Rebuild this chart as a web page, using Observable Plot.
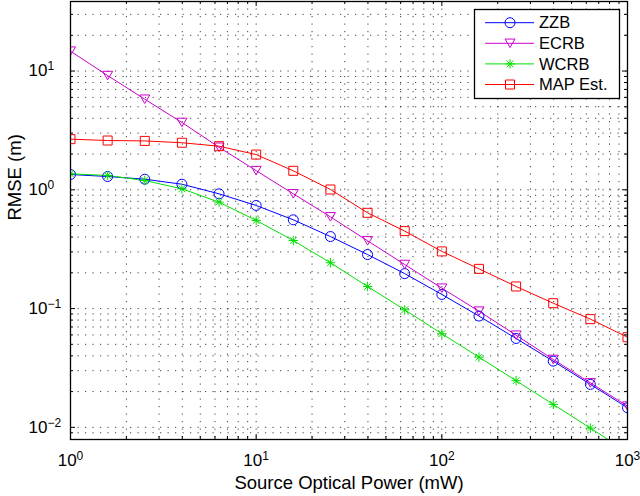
<!DOCTYPE html>
<html><head><meta charset="utf-8">
<script src="https://cdn.jsdelivr.net/npm/d3@7"></script>
<script src="https://cdn.jsdelivr.net/npm/@observablehq/plot@0.6"></script>
<style>
html,body{margin:0;padding:0;background:#fff;}
#chart{position:relative;width:640px;height:496px;font-family:"Liberation Sans",Arial,Helvetica,sans-serif;}
#chart svg{display:block;}
#legend{position:absolute;left:0;top:0;}
</style></head><body><div id="chart"></div>
<script>
// ---- data ----
const power = [1, 1.585, 2.512, 3.981, 6.310, 10, 15.85, 25.12, 39.81, 63.10, 100, 158.5, 251.2, 398.1, 631.0, 1000];
const seriesNames = ["ZZB", "ECRB", "WCRB", "MAP Est."];
const zzb  = [1.345, 1.294, 1.228, 1.115, 0.925, 0.738, 0.559, 0.404, 0.285, 0.197, 0.1315, 0.0865, 0.056, 0.0361, 0.023, 0.01462];
const ecrb = [14.7, 9.16, 5.79, 3.69, 2.28, 1.45, 0.925, 0.592, 0.372, 0.235, 0.1485, 0.0951, 0.0597, 0.0373, 0.0237, 0.0151];
const wcrb = [1.363, 1.32, 1.197, 1.02, 0.787, 0.552, 0.374, 0.243, 0.1535, 0.0977, 0.0614, 0.039, 0.0247, 0.0156, 0.00985, 0.0062];
const mapEst = [2.67, 2.60, 2.58, 2.49, 2.33, 1.98, 1.445, 1.006, 0.64, 0.449, 0.303, 0.216, 0.1535, 0.111, 0.0815, 0.0574];
const colors = ["#0000ff", "#cc00cc", "#00e000", "#ff0000"];
const xMajorTicks = [1, 10, 100, 1000];
const yMajorTicks = [0.01, 0.1, 1, 10];
const xLabel = "Source Optical Power (mW)";
const yLabel = "RMSE (m)";

// ---- layout ----
const W = 640, H = 496, mL = 70, mR = 13, mT = 1, mB = 57;
const fw = W - mL - mR, fh = H - mT - mB;

const seriesValues = [zzb, ecrb, wcrb, mapEst];
const rows = [];
seriesNames.forEach((s, i) => power.forEach((p, j) => rows.push({series: s, power: p, rmse: seriesValues[i][j]})));

// minor tick positions (log decades)
const minorFrom = (lo, hi) => { const out = []; for (let e = lo; e < hi; e++) for (let m = 1; m <= 9; m++) out.push(+(m * 10 ** e).toPrecision(3)); return out; };
const xMinor = minorFrom(0, 3).concat([1000]).filter(v => !xMajorTicks.includes(v));
const yMinor = minorFrom(-3, 2).filter(v => v > 0.0081 && v < 38 && !yMajorTicks.includes(v));
const xGrid = xMinor.concat(xMajorTicks).filter(v => v > 1 && v < 1000);
const yGrid = yMinor.concat(yMajorTicks);

// custom marker symbols
const symCircle = {draw(c, s) { const r = Math.sqrt(s / Math.PI); c.moveTo(r, 0); c.arc(0, 0, r, 0, 2 * Math.PI); }};
const symTriDown = {draw(c, s) { const r = Math.sqrt(s / Math.PI); c.moveTo(-r, -0.85 * r); c.lineTo(r, -0.85 * r); c.lineTo(0, 0.85 * r); c.closePath(); }};
const symStar = {draw(c, s) { const r = Math.sqrt(s / Math.PI) * 0.95; const d = r * 0.7071;
  c.moveTo(-r, 0); c.lineTo(r, 0); c.moveTo(0, -r); c.lineTo(0, r);
  c.moveTo(-d, -d); c.lineTo(d, d); c.moveTo(-d, d); c.lineTo(d, -d); }};
const symSquare = {draw(c, s) { const r = Math.sqrt(s / Math.PI) * 0.9; c.rect(-r, -r, 2 * r, 2 * r); }};
const symbols = [symCircle, symTriDown, symStar, symSquare];

const sup = v => "10^" + String(Math.round(Math.log10(v))).replace("-", "\u2212");
const dotted = {stroke: "#000", strokeOpacity: 0.75, strokeWidth: 1, strokeDasharray: "1.2,6.3"};

const plot = Plot.plot({
  width: W, height: H,
  marginLeft: mL, marginRight: mR, marginTop: mT, marginBottom: mB,
  style: {fontFamily: '"Liberation Sans", Arial, Helvetica, sans-serif', background: "#fff", color: "#000", overflow: "visible"},
  x: {type: "log", domain: [1, 1000], axis: null},
  y: {type: "log", domain: [0.0079, 38.5], axis: null},
  marks: [
    Plot.ruleX(xGrid, {x: d => d, ...dotted}),
    Plot.ruleY(yGrid, {y: d => d, ...dotted}),
    // lines
    ...seriesNames.map((s, i) => Plot.line(rows.filter(r => r.series === s), {x: "power", y: "rmse", stroke: colors[i], strokeWidth: 1, clip: true})),
    ...seriesNames.map((s, i) => Plot.dot(rows.filter(r => r.series === s), {x: "power", y: "rmse", stroke: colors[i], fill: "none", strokeWidth: 1, r: 5, symbol: symbols[i], clip: true})),
    // inward ticks on all four sides
    Plot.ruleX(xMajorTicks, {x: d => d, insetTop: fh - 5, stroke: "#000"}),
    Plot.ruleX(xMajorTicks, {x: d => d, insetBottom: fh - 5, stroke: "#000"}),
    Plot.ruleX(xMinor, {x: d => d, insetTop: fh - 3, stroke: "#000"}),
    Plot.ruleX(xMinor, {x: d => d, insetBottom: fh - 3, stroke: "#000"}),
    Plot.ruleY(yMajorTicks, {y: d => d, insetRight: fw - 5, stroke: "#000"}),
    Plot.ruleY(yMajorTicks, {y: d => d, insetLeft: fw - 5, stroke: "#000"}),
    Plot.ruleY(yMinor, {y: d => d, insetRight: fw - 3, stroke: "#000"}),
    Plot.ruleY(yMinor, {y: d => d, insetLeft: fw - 3, stroke: "#000"}),
    Plot.frame({stroke: "#000", strokeWidth: 1.3}),
    // tick labels
    Plot.text(xMajorTicks, {x: d => d, text: sup, frameAnchor: "bottom", lineAnchor: "top", dy: 14, fontSize: 17, fill: "#000"}),
    Plot.text(yMajorTicks, {y: d => d, text: sup, frameAnchor: "left", textAnchor: "start", lineAnchor: "middle", dx: -42, fontSize: 17, fill: "#000"}),
    // axis labels
    Plot.text([xLabel], {text: d => d, frameAnchor: "bottom", lineAnchor: "middle", dy: 44, fontSize: 18.5, fill: "#000"}),
    Plot.text([yLabel], {text: d => d, frameAnchor: "left", lineAnchor: "middle", rotate: -90, dx: -55, fontSize: 18.5, fill: "#000"})
  ]
});

const chart = document.getElementById("chart");
chart.append(plot);

// superscript exponents on tick labels
const NS = "http://www.w3.org/2000/svg";
Array.from(plot.querySelectorAll("text")).forEach(t => {
  const txt = t.textContent;
  if (!txt.includes("^")) return;
  const [base, exp] = txt.split("^");
  while (t.firstChild) t.removeChild(t.firstChild);
  const a = document.createElementNS(NS, "tspan"); a.textContent = base;
  const b = document.createElementNS(NS, "tspan"); b.textContent = exp;
  b.setAttribute("dy", "-6"); b.setAttribute("font-size", "12");
  t.appendChild(a); t.appendChild(b);
});

// legend (inside the axes, top-right)
const lx = 474, ly = 9, lw = 145, lh = 89;
const leg = d3.select(chart).append("svg").attr("id", "legend").attr("width", W).attr("height", H)
  .style("pointer-events", "none");
leg.append("rect").attr("x", lx + 0.5).attr("y", ly + 0.5).attr("width", lw).attr("height", lh)
  .attr("fill", "#fff").attr("stroke", "#000").attr("stroke-width", 1.3);
seriesNames.forEach((s, i) => {
  const y = ly + 13.7 + i * 20.6;
  const g = leg.append("g");
  g.append("line").attr("x1", lx + 11).attr("x2", lx + 60).attr("y1", y).attr("y2", y).attr("stroke", colors[i]).attr("stroke-width", 1);
  const path = d3.path(); symbols[i].draw(path, 25 * Math.PI);
  g.append("path").attr("d", path.toString()).attr("transform", `translate(${lx + 36},${y})`).attr("fill", "none").attr("stroke", colors[i]).attr("stroke-width", 1);
  g.append("text").attr("x", lx + 65).attr("y", y).attr("dy", "0.35em").attr("font-size", 16.5).attr("fill", "#000").text(s);
});
</script>
</body></html>
